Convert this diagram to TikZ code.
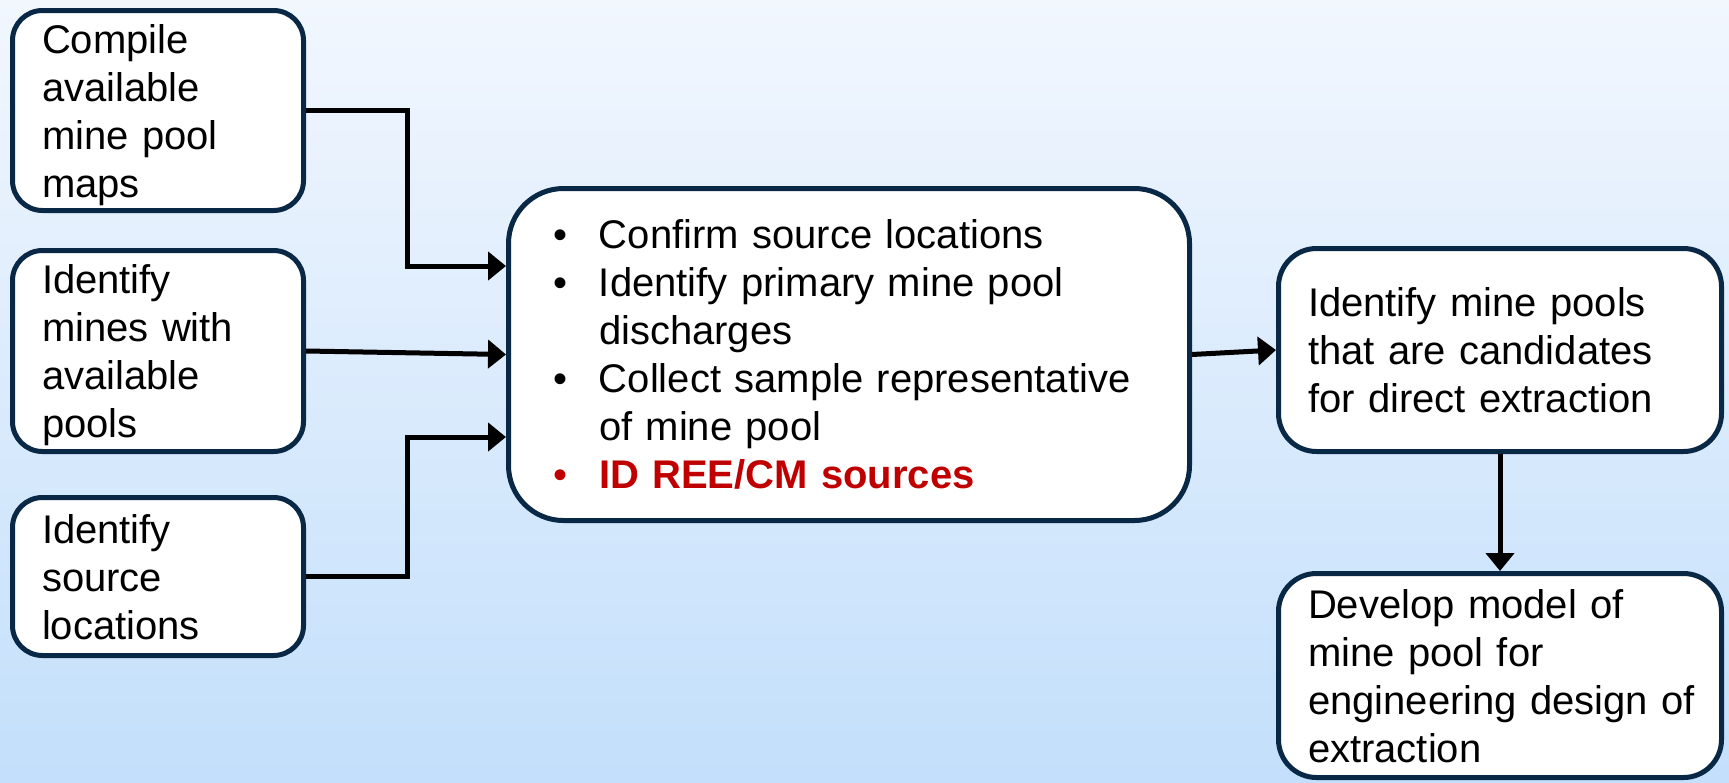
\documentclass[tikz,border=0pt]{standalone}
\usepackage{fontspec}
\setmainfont{Liberation Sans}
\usetikzlibrary{arrows.meta}

\definecolor{navy}{RGB}{8,40,70}
\definecolor{bgtop}{RGB}{242,247,254}
\definecolor{bgbot}{RGB}{195,223,251}
\definecolor{alertred}{RGB}{192,0,0}

% text block of a box: stacked lines, set a little below the geometric centre
\newcommand{\boxlines}[1]{\raisebox{-2.5pt}[\height][\depth]{\begin{tabular}{@{}l@{}}#1\end{tabular}}}
\newcommand{\bulletlines}[1]{\raisebox{-2pt}[\height][\depth]{\begin{tabular}{@{}l@{}}#1\end{tabular}}}
% bullet item with a hanging indent of 20pt
\newcommand{\bitem}{\makebox[20pt][l]{\hspace{-3pt}\textbullet}}
\newcommand{\bcont}{\hspace{20pt}}

\begin{document}
\begin{tikzpicture}[x=0.5pt,y=-0.5pt,
  box/.style={draw=navy, line width=2.5pt, fill=white, inner ysep=0pt,
    inner xsep=14.75pt, align=left, font=\fontsize{20pt}{24pt}\selectfont},
  sidebox/.style={box, rounded corners=15pt, minimum width=145.5pt, text width=116pt},
  outbox/.style={box, rounded corners=19pt, minimum width=221.5pt, text width=192pt},
  mainbox/.style={box, rounded corners=27.5pt, minimum width=340.5pt,
    inner xsep=25.25pt, text width=290pt, minimum height=166pt},
  arr/.style={line width=2.5pt, -{Triangle[length=9pt,width=14pt]}}]

% background
\useasboundingbox (0,0) rectangle (1729,782);
\fill[top color=bgtop, bottom color=bgbot] (0,0) rectangle (1729,782);

% input steps
\node[sidebox, minimum height=100pt] (A) at (158,110.5)
  {\boxlines{Compile\\available\\mine pool\\maps}};
\node[sidebox, minimum height=100.5pt] (B) at (158,351)
  {\boxlines{Identify\\mines with\\available\\pools}};
\node[sidebox, minimum height=79pt] (C) at (158,576.5)
  {\boxlines{Identify\\source\\locations}};

% field work
\node[mainbox] (M) at (849,354.5)
  {\bulletlines{\bitem Confirm source locations\\
    \bitem Identify primary mine pool\\
    \bcont discharges\\
    \bitem Collect sample representative\\
    \bcont of mine pool\\
    \textcolor{alertred}{\bitem\bfseries ID REE/CM sources}}};

% outcomes
\node[outbox, minimum height=101.5pt] (D) at (1500,350)
  {\boxlines{Identify mine pools\\that are candidates\\for direct extraction}};
\node[outbox, minimum height=102pt] (E) at (1500,675.5)
  {\boxlines{Develop model of\\mine pool for\\engineering design of\\extraction}};

% connectors
\coordinate (inA) at (M.west |- 0,266);
\coordinate (inC) at (M.west |- 0,437);
\draw[arr] (A.east) -| (407,266) -- (inA);
\draw[arr] (B.east) -- (M.west);
\draw[arr] (C.east) -| (407,437) -- (inC);
\draw[arr] (M.east) -- (D.west);
\draw[arr] (D.south) -- (E.north);
\end{tikzpicture}
\end{document}
